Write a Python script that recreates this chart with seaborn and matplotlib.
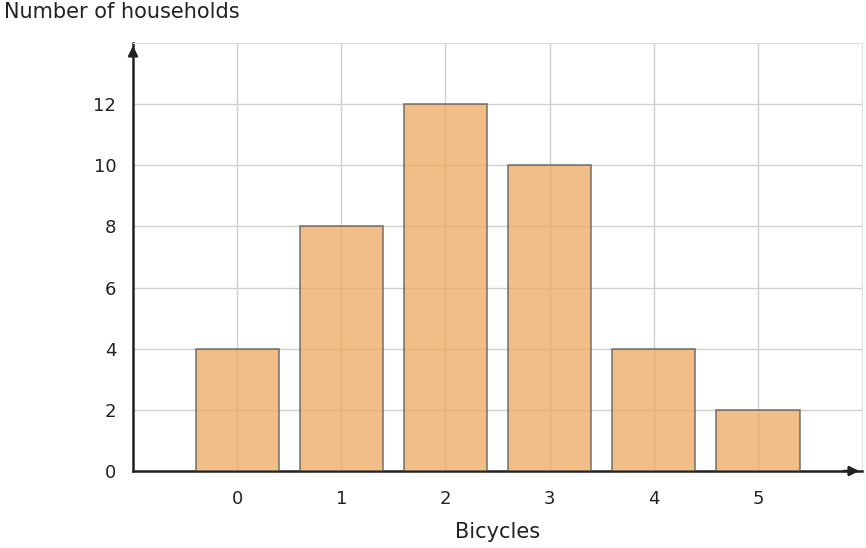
import matplotlib
matplotlib.use("Agg")
import matplotlib.pyplot as plt
import seaborn as sns
import pandas as pd

categories = ["0", "1", "2", "3", "4", "5"]
households = [4, 8, 12, 10, 4, 2]
y_ticks = [0, 2, 4, 6, 8, 10, 12]

sns.set_style("white")
plt.rcParams['font.family'] = ['DejaVu Sans']
df = pd.DataFrame({"Bicycles": categories, "Households": households})

fig = plt.figure(figsize=(8.66, 5.48), dpi=100)
ax = fig.add_axes([0.1536, 0.1405, 0.8418, 0.781])
sns.barplot(data=df, x="Bicycles", y="Households", order=categories, ax=ax,
            color="#eea95f", alpha=0.75, edgecolor="#555555", linewidth=1.2,
            width=0.8, saturation=1, zorder=3)
ax.set_xlim(-1, 6)
ax.set_ylim(0, 14)
ax.set_yticks(y_ticks)
ax.set_yticklabels([str(v) for v in y_ticks], fontsize=13, color="#222222")
ax.set_xticks(range(len(categories)))
ax.set_xticklabels(categories, fontsize=13, color="#222222")
ax.grid(True, color="#d0d0d0", linewidth=1, zorder=0)
ax.set_axisbelow(True)
for s in ["top", "right"]:
    ax.spines[s].set_color("#dddddd")
for s in ["left", "bottom"]:
    ax.spines[s].set_color("#222222")
    ax.spines[s].set_linewidth(1.8)
ax.tick_params(axis="y", length=6, width=1.2, color="#222222", pad=6)
ax.tick_params(axis="x", length=5, width=1.2, color="#8a6a4a", direction="in", pad=14)
ax.set_xlabel("Bicycles", fontsize=15, color="#222222", labelpad=10)
ax.set_ylabel("")
fig.text(0.005, 0.978, "Number of households", fontsize=15, color="#222222",
         ha="left", va="center")
ax.annotate("", xy=(6.0, 0), xytext=(5.8, 0), xycoords="data",
            arrowprops=dict(arrowstyle="-|>", color="#222222", lw=1.8, mutation_scale=14),
            annotation_clip=False)
ax.annotate("", xy=(-1, 14), xytext=(-1, 13.5), xycoords="data",
            arrowprops=dict(arrowstyle="-|>", color="#222222", lw=1.8, mutation_scale=14),
            annotation_clip=False)
fig.savefig("out.png", dpi=100)
